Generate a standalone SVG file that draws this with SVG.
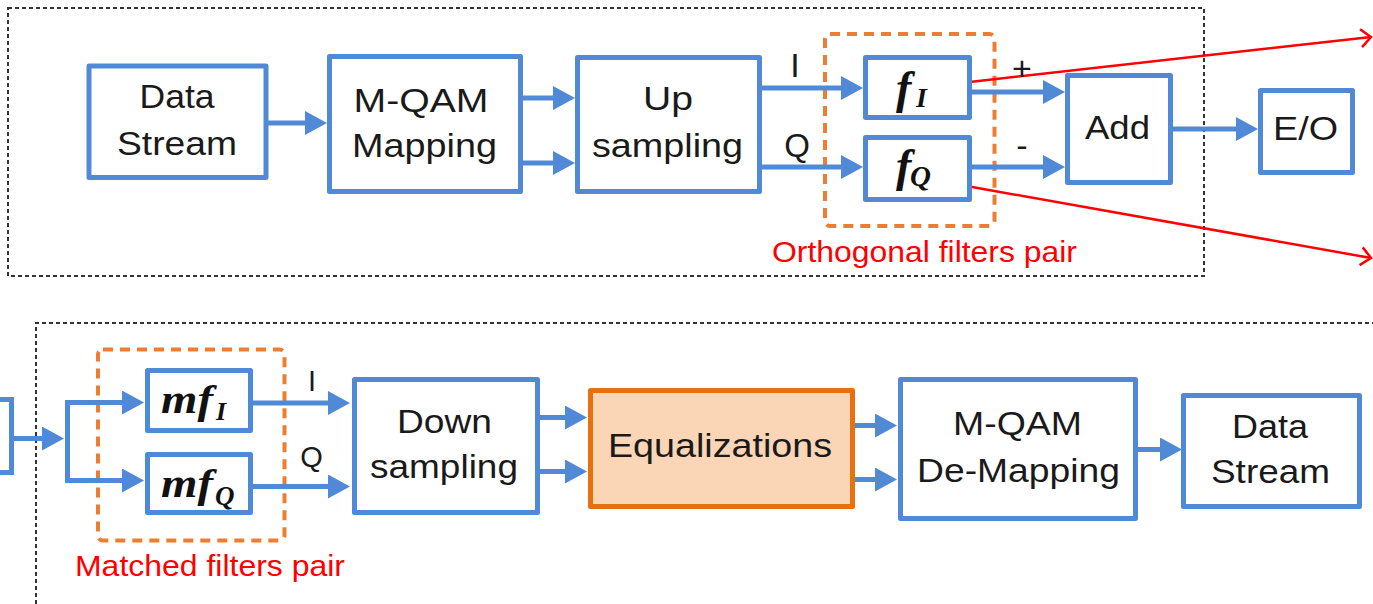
<svg xmlns="http://www.w3.org/2000/svg" width="1373" height="604" viewBox="0 0 1373 604">
<style>
  .box { fill: #ffffff; stroke: #5089D6; stroke-width: 5; stroke-linejoin: round; }
  .eq { fill: #FBD6B6; stroke: #E8710F; stroke-width: 5; stroke-linejoin: round; }
  .frame { fill: none; stroke: #333333; stroke-width: 2; stroke-dasharray: 4 3; }
  .pair { fill: none; stroke: #ED7D31; stroke-width: 4; stroke-dasharray: 10 7; }
  .wire { fill: none; stroke: #5089D6; stroke-width: 5; marker-end: url(#ah); }
  .wire0 { fill: none; stroke: #5089D6; stroke-width: 5; }
  .red { fill: none; stroke: #FF0000; stroke-width: 2.5; marker-end: url(#open); }
  .t { font-family: "Liberation Sans", Arial, sans-serif; font-size: 33px; fill: #1a1a1a; text-anchor: middle; }
  .s { font-family: "Liberation Sans", Arial, sans-serif; fill: #1a1a1a; text-anchor: middle; }
  .rt { font-family: "Liberation Sans", Arial, sans-serif; font-size: 30px; fill: #FF0000; text-anchor: middle; }
  .m { font-family: "Liberation Serif", "Times New Roman", serif; font-style: italic; font-weight: bold; fill: #111111; }
</style>
<defs>
  <marker id="ah" markerUnits="userSpaceOnUse" markerWidth="22" markerHeight="24" refX="0" refY="12" orient="auto">
    <path d="M0,0 L22,12 L0,24 Z" fill="#5089D6"/>
  </marker>
  <marker id="open" markerUnits="userSpaceOnUse" markerWidth="14" markerHeight="22" refX="11" refY="11" orient="auto">
    <path d="M1,2 L11,11 L1,20" fill="none" stroke="#FF0000" stroke-width="2.5"/>
  </marker>
</defs>

<!-- frames -->
<g id="tx-frame">
  <rect class="frame" x="8" y="8" width="1196" height="268"/>
</g>
<g id="rx-frame">
  <path class="frame" d="M36,604 V323 H1373"/>
</g>
<g id="orthogonal-pair">
  <rect class="pair" x="825" y="34" width="169.5" height="192" rx="5"/>
  <text class="rt" x="924.5" y="262" textLength="305" lengthAdjust="spacingAndGlyphs">Orthogonal filters pair</text>
</g>
<g id="matched-pair">
  <rect class="pair" x="98" y="349.5" width="186.5" height="191" rx="5"/>
  <text class="rt" x="210" y="576" textLength="270" lengthAdjust="spacingAndGlyphs">Matched filters pair</text>
</g>

<!-- connectors -->
<g id="connectors">
  <path class="wire" d="M268,123 H305"/>
  <path class="wire" d="M523,98 H553"/>
  <path class="wire" d="M523,163 H553"/>
  <path class="wire" d="M762,88 H841"/>
  <path class="wire" d="M762,167 H841"/>
  <path class="wire" d="M972,92 H1043"/>
  <path class="wire" d="M972,167 H1043"/>
  <path class="wire" d="M1173,129 H1236"/>
  <path class="red" d="M961,83 L1371,37"/>
  <path class="red" d="M961,185 L1371,258"/>

  <path class="wire" d="M14,438.5 H42"/>
  <path class="wire0" d="M67.5,400 V483"/>
  <path class="wire" d="M65,402.5 H122"/>
  <path class="wire" d="M65,480.5 H122"/>
  <path class="wire" d="M253,403 H328"/>
  <path class="wire" d="M253,486.5 H328"/>
  <path class="wire" d="M540,417.5 H565"/>
  <path class="wire" d="M540,471.5 H565"/>
  <path class="wire" d="M855,425.5 H875"/>
  <path class="wire" d="M855,479.5 H875"/>
  <path class="wire" d="M1138,449.5 H1160"/>

  <text class="s" x="795" y="77" font-size="34">I</text>
  <text class="s" x="797" y="157" font-size="33">Q</text>
  <text class="s" x="1022" y="80" font-size="34">+</text>
  <text class="s" x="1022" y="157" font-size="34">-</text>
  <text class="s" x="312" y="391" font-size="29">I</text>
  <text class="s" x="311.5" y="467" font-size="29">Q</text>
</g>

<!-- transmitter nodes -->
<g id="tx-data-stream">
  <rect class="box" x="89" y="66" width="177" height="111.5"/>
  <text class="t" x="177" y="108" textLength="75" lengthAdjust="spacingAndGlyphs">Data</text>
  <text class="t" x="177" y="155" textLength="120" lengthAdjust="spacingAndGlyphs">Stream</text>
</g>
<g id="mqam-mapping">
  <rect class="box" x="329.5" y="56.5" width="191" height="135"/>
  <text class="t" x="421" y="112" textLength="135" lengthAdjust="spacingAndGlyphs">M-QAM</text>
  <text class="t" x="424.5" y="157" textLength="145" lengthAdjust="spacingAndGlyphs">Mapping</text>
</g>
<g id="up-sampling">
  <rect class="box" x="577.5" y="57.5" width="182" height="134"/>
  <text class="t" x="668" y="110" textLength="50" lengthAdjust="spacingAndGlyphs">Up</text>
  <text class="t" x="667.5" y="157" textLength="151" lengthAdjust="spacingAndGlyphs">sampling</text>
</g>
<g id="f-i">
  <rect class="box" x="865.5" y="57.5" width="104" height="60"/>
  <text class="m"><tspan x="896" y="103" font-size="46">f</tspan><tspan x="916" y="107" font-size="28">I</tspan></text>
</g>
<g id="f-q">
  <rect class="box" x="865.5" y="137.5" width="104" height="62"/>
  <text class="m"><tspan x="896" y="181" font-size="46">f</tspan><tspan x="910" y="186" font-size="29">Q</tspan></text>
</g>
<g id="add">
  <rect class="box" x="1067.5" y="75.5" width="103" height="107"/>
  <text class="t" x="1117.5" y="139" textLength="65" lengthAdjust="spacingAndGlyphs">Add</text>
</g>
<g id="eo">
  <rect class="box" x="1260.5" y="90.5" width="92" height="82"/>
  <text class="t" x="1305.5" y="140" textLength="65" lengthAdjust="spacingAndGlyphs">E/O</text>
</g>

<!-- receiver nodes -->
<g id="rx-input">
  <path class="wire0" d="M0,399.5 H11.5 V472.5 H0"/>
</g>
<g id="mf-i">
  <rect class="box" x="147.5" y="370.5" width="103" height="60"/>
  <text class="m"><tspan x="161" y="413" font-size="40" textLength="52" lengthAdjust="spacingAndGlyphs">mf</tspan><tspan x="216" y="420" font-size="26">I</tspan></text>
</g>
<g id="mf-q">
  <rect class="box" x="147.5" y="454.5" width="103" height="58"/>
  <text class="m"><tspan x="161" y="497" font-size="40" textLength="52" lengthAdjust="spacingAndGlyphs">mf</tspan><tspan x="215" y="505" font-size="27">Q</tspan></text>
</g>
<g id="down-sampling">
  <rect class="box" x="354.5" y="379.5" width="183" height="133"/>
  <text class="t" x="444.5" y="433" textLength="95" lengthAdjust="spacingAndGlyphs">Down</text>
  <text class="t" x="444" y="478" textLength="148" lengthAdjust="spacingAndGlyphs">sampling</text>
</g>
<g id="equalizations">
  <rect class="eq" x="590.5" y="390.5" width="262" height="116"/>
  <text class="t" x="720" y="457" textLength="224" lengthAdjust="spacingAndGlyphs">Equalizations</text>
</g>
<g id="mqam-demapping">
  <rect class="box" x="900.5" y="379.5" width="235" height="139"/>
  <text class="t" x="1017.5" y="435" textLength="129" lengthAdjust="spacingAndGlyphs">M-QAM</text>
  <text class="t" x="1018.5" y="482" textLength="203" lengthAdjust="spacingAndGlyphs">De-Mapping</text>
</g>
<g id="rx-data-stream">
  <rect class="box" x="1183.5" y="395.5" width="176" height="111"/>
  <text class="t" x="1270" y="438" textLength="76" lengthAdjust="spacingAndGlyphs">Data</text>
  <text class="t" x="1270.5" y="483" textLength="119" lengthAdjust="spacingAndGlyphs">Stream</text>
</g>
</svg>
